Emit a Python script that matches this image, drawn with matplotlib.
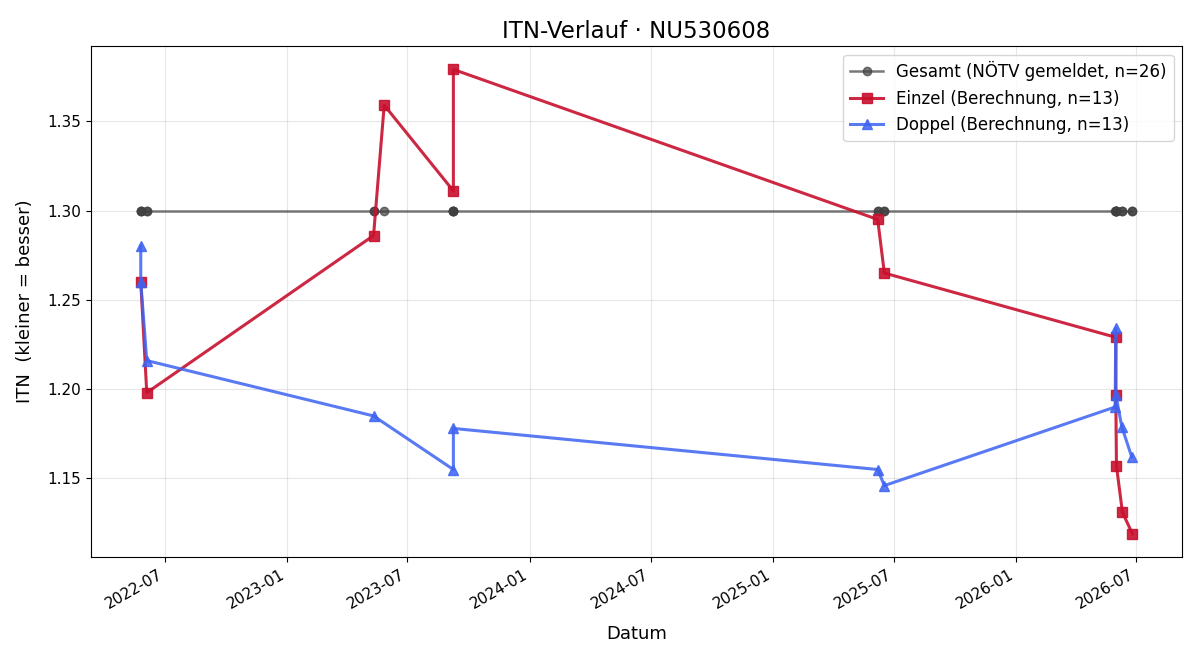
import matplotlib
matplotlib.use("Agg")
import matplotlib.pyplot as plt
import matplotlib.dates as mdates
import pandas as pd

# Einzel (singles) ratings
einzel_dates = ["2022-05-26", "2022-06-04", "2023-05-11", "2023-05-27", "2023-09-08",
                "2023-09-08", "2025-06-07", "2025-06-17", "2026-05-31", "2026-05-31",
                "2026-06-01", "2026-06-10", "2026-06-25"]
einzel_itn = [1.260, 1.198, 1.286, 1.359, 1.311, 1.379, 1.295, 1.265, 1.229, 1.197,
              1.157, 1.131, 1.119]

# Doppel (doubles) ratings
doppel_dates = ["2022-05-26", "2022-05-26", "2022-06-04", "2023-05-11", "2023-09-08",
                "2023-09-08", "2025-06-07", "2025-06-17", "2026-05-30", "2026-05-31",
                "2026-05-31", "2026-06-09", "2026-06-24"]
doppel_itn = [1.280, 1.260, 1.216, 1.185, 1.155, 1.178, 1.155, 1.146, 1.190, 1.234,
              1.197, 1.179, 1.162]

# Gesamt (reported overall)
gesamt_dates = sorted(einzel_dates + doppel_dates)
gesamt_itn = [1.30, 1.30, 1.30, 1.30, 1.30, 1.30, 1.30, 1.30, 1.30, 1.30, 1.30, 1.30, 1.30,
              1.30, 1.30, 1.30, 1.30, 1.30, 1.30, 1.30, 1.30, 1.30, 1.30, 1.30, 1.30, 1.30]

fig, ax = plt.subplots(figsize=(12, 6.6), dpi=100)

ax.plot(pd.to_datetime(gesamt_dates), gesamt_itn, marker='o', color='#404040',
        alpha=0.7, linewidth=1.8, markersize=6,
        label=f"Gesamt (NÖTV gemeldet, n={len(gesamt_itn)})")
ax.plot(pd.to_datetime(einzel_dates), einzel_itn, marker='s', color='#c8102e',
        alpha=0.9, linewidth=2.2, markersize=7,
        label=f"Einzel (Berechnung, n={len(einzel_itn)})")
ax.plot(pd.to_datetime(doppel_dates), doppel_itn, marker='^', color='#3d63f2',
        alpha=0.85, linewidth=2.2, markersize=7,
        label=f"Doppel (Berechnung, n={len(doppel_itn)})")

ax.set_title("ITN-Verlauf · NU530608", fontsize=16.5)
ax.set_xlabel("Datum", fontsize=13, labelpad=10)
ax.set_ylabel("ITN  (kleiner = besser)", fontsize=13, labelpad=10)
ax.xaxis.set_major_locator(mdates.MonthLocator(bymonth=[1, 7]))
ax.xaxis.set_major_formatter(mdates.DateFormatter("%Y-%m"))
ax.tick_params(labelsize=11)
ax.grid(alpha=0.3)
ax.legend(loc='upper right', fontsize=12)
fig.autofmt_xdate()

fig.subplots_adjust(left=0.076, right=0.985, top=0.930, bottom=0.156)
fig.savefig("out.png")
